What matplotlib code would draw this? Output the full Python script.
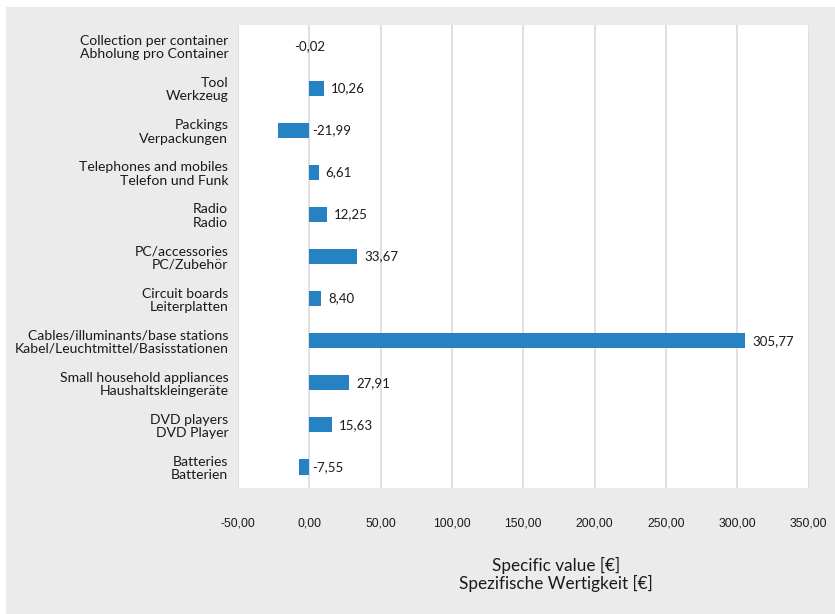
import matplotlib.pyplot as plt
from matplotlib.patches import Rectangle

# Categories (English / German), top to bottom
labels_en = ['Collection per container', 'Tool', 'Packings', 'Telephones and mobiles',
             'Radio', 'PC/accessories', 'Circuit boards', 'Cables/illuminants/base stations',
             'Small household appliances', 'DVD players', 'Batteries']
labels_de = ['Abholung pro Container', 'Werkzeug', 'Verpackungen', 'Telefon und Funk',
             'Radio', 'PC/Zubehör', 'Leiterplatten', 'Kabel/Leuchtmittel/Basisstationen',
             'Haushaltskleingeräte', 'DVD Player', 'Batterien']
values = [-0.02, 10.26, -21.99, 6.61, 12.25, 33.67, 8.40, 305.77, 27.91, 15.63, -7.55]
xticks = [-50, 0, 50, 100, 150, 200, 250, 300, 350]

bar_color = '#2782c3'
grid_color = '#dddddd'
bg_color = '#ebebeb'
text_color = '#1a1a1a'

fig = plt.figure(figsize=(8.35, 6.14), dpi=100, facecolor='white')
# gray panel behind the chart, leaving a thin white margin top and left
fig.add_artist(Rectangle((6 / 835, 0), 1, 1 - 7 / 614, transform=fig.transFigure,
                         facecolor=bg_color, edgecolor='none', zorder=-10))

ax = fig.add_axes([238 / 835, 1 - 488 / 614, 570.5 / 835, 463 / 614])
ax.set_facecolor('white')

n = len(values)
ypos = list(range(n))
ax.barh(ypos, values, height=0.36, color=bar_color, zorder=3)

ax.set_xlim(-50, 350)
ax.set_ylim(n - 0.5, -0.5)
ax.set_xticks(xticks)
ax.set_xticklabels([f'{t:.2f}'.replace('.', ',') for t in xticks],
                   fontfamily='Liberation Sans', fontsize=8.8, color=text_color)
ax.set_yticks(ypos)
ax.set_yticklabels([f'{e}\n{d}' for e, d in zip(labels_en, labels_de)],
                   fontfamily='Lato', fontsize=10.1, color=text_color, linespacing=1.13)
ax.tick_params(axis='x', length=0, pad=21)
ax.tick_params(axis='y', length=0, pad=7)

ax.grid(axis='x', color=grid_color, linewidth=1.3, zorder=0)
for spine in ax.spines.values():
    spine.set_visible(False)

# value labels: right of the bar end, negative values start at the zero line
for y, v in zip(ypos, values):
    txt = f'{v:.2f}'.replace('.', ',')
    if abs(v) < 1:
        ax.text(0, y, txt, ha='center', va='center', fontfamily='Lato',
                fontsize=9.5, color=text_color, zorder=4)
    elif v < 0:
        ax.annotate(txt, (0, y), xytext=(2, 0), textcoords='offset points',
                    ha='left', va='center', fontfamily='Lato', fontsize=9.5, color=text_color)
    else:
        ax.annotate(txt, (v, y), xytext=(5, 0), textcoords='offset points',
                    ha='left', va='center', fontfamily='Lato', fontsize=9.5, color=text_color)

ax.set_xlabel('Specific value [€]\nSpezifische Wertigkeit [€]', fontfamily='Lato',
              fontsize=12.3, color=text_color, linespacing=1.05)
ax.xaxis.set_label_coords(0.557, -0.15)

fig.savefig('out.png', dpi=100, facecolor=fig.get_facecolor())
